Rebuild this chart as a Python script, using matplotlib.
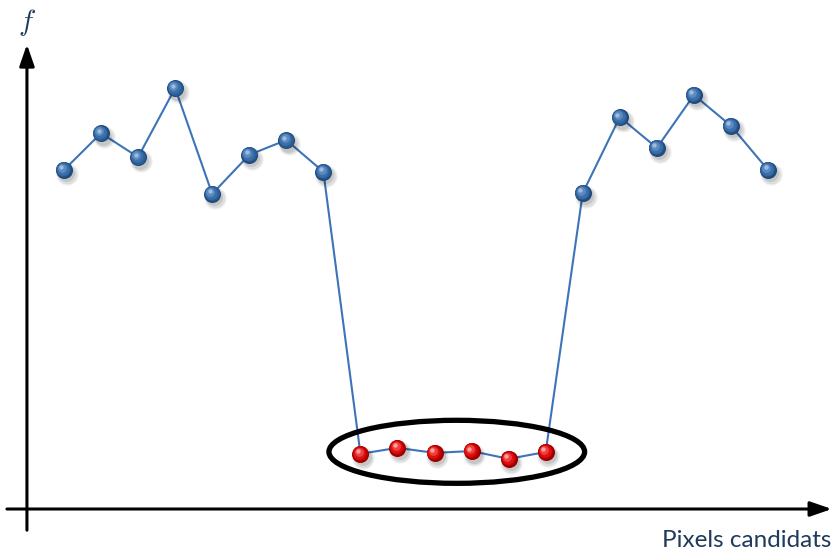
import matplotlib.pyplot as plt
import matplotlib.transforms as mtransforms
from matplotlib.patches import Ellipse
import numpy as np

plt.rcParams['mathtext.fontset'] = 'cm'

# --- Data ---
left_f = [7.37, 8.17, 7.65, 9.15, 6.85, 7.70, 8.02, 7.33]
low_f = [1.20, 1.33, 1.22, 1.26, 1.09, 1.24]
right_f = [6.87, 8.52, 7.85, 9.00, 8.33, 7.37]

f_all = left_f + low_f + right_f
idx = np.arange(len(f_all))
low_idx = idx[len(left_f):len(left_f) + len(low_f)]

BLUE_LINE = '#3D74B8'
BLUE_BALL = ['#1F4A7C', '#2B5D96', '#3B6FAA', '#5A8AC0', '#9DBBDD']
RED_BALL = ['#9A0000', '#C00000', '#DC1010', '#EE4040', '#FFA0A0']
TEXT_COL = '#1F3A5C'

fig = plt.figure(figsize=(8.34, 5.5), dpi=100)
ax = fig.add_axes([0, 0, 1, 1])
ax.set_xlim(-1.727, 20.78)
ax.set_ylim(-0.891, 11.065)
ax.axis('off')

# connecting line
ax.plot(idx, f_all, color=BLUE_LINE, lw=1.5, zorder=2)


def balls(x, y, cols):
    # soft shadow
    for dx, dy, s, a in [(2, -3, 260, 0.06), (2, -3, 200, 0.08), (1.5, -2.5, 150, 0.10)]:
        tr = mtransforms.offset_copy(ax.transData, fig=fig, x=dx, y=dy, units='points')
        ax.scatter(x, y, s=s, color='black', alpha=a, lw=0, transform=tr, zorder=3)
    # sphere shading
    layers = [(0, 0, 150), (-0.4, 0.4, 115), (-0.8, 0.8, 80), (-1.3, 1.3, 40), (-1.8, 1.8, 10)]
    for c, (dx, dy, s) in zip(cols, layers):
        tr = mtransforms.offset_copy(ax.transData, fig=fig, x=dx, y=dy, units='points')
        ax.scatter(x, y, s=s, color=c, lw=0, transform=tr, zorder=4)


blue_mask = ~np.isin(idx, low_idx)
balls(idx[blue_mask], np.array(f_all)[blue_mask], BLUE_BALL)
balls(low_idx, low_f, RED_BALL)

# ellipse around the low values
cx = (low_idx.min() + low_idx.max()) / 2 + 0.1
cy = np.mean(low_f) + 0.02
ell = Ellipse((cx, cy), width=(low_idx.max() - low_idx.min()) + 1.9,
              height=1.37, fill=False, ec='black', lw=3.8, zorder=5)
ax.add_patch(ell)

# axes arrows
arrow = dict(arrowstyle='-|>,head_length=1.3,head_width=0.45', color='black',
             lw=2.2, shrinkA=0, shrinkB=0)
ax.annotate('', xy=(-1.0, 10.1), xytext=(-1.0, -0.46), arrowprops=arrow)
ax.annotate('', xy=(20.72, 0), xytext=(-1.54, 0), arrowprops=arrow)

fig.text(27 / 834, 1 - 23 / 550, r'$f$', fontsize=21, color=TEXT_COL,
         ha='center', va='center')
fig.text(831 / 834, 1 - 547 / 550, 'Pixels candidats', fontsize=17.5,
         family='Lato', color=TEXT_COL, ha='right', va='baseline')

fig.savefig('out.png', dpi=100)
